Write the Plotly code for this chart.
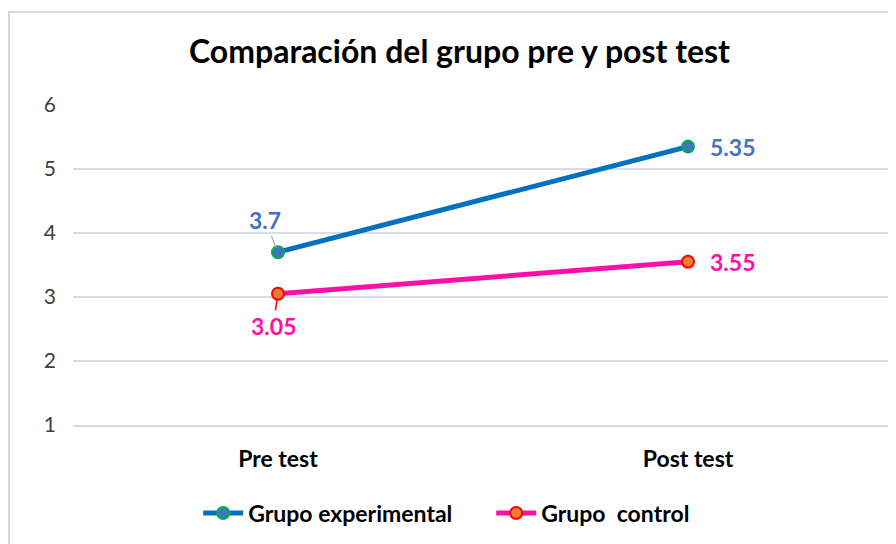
import plotly.graph_objects as go

categories = ["Pre test", "Post test"]
experimental = [3.7, 5.35]
control = [3.05, 3.55]
y_ticks = [1, 2, 3, 4, 5, 6]
title_text = "Comparación del grupo pre y post test"
names = ["Grupo experimental", "Grupo\u00a0 control"]

FONT = "Lato"
L, T, PW, PH = 65, 97, 820, 320

fig = go.Figure()
fig.add_trace(go.Scatter(
    x=categories, y=experimental, mode="lines+markers", name=names[0],
    line=dict(color="#0070C0", width=5),
    marker=dict(size=12, color="#4472C4", line=dict(color="#00B050", width=2)),
))
fig.add_trace(go.Scatter(
    x=categories, y=control, mode="lines+markers", name=names[1],
    line=dict(color="#FF0FAA", width=5),
    marker=dict(size=12, color="#ED7D31", line=dict(color="#FF0000", width=2)),
))

lab_font_b = dict(family=FONT, size=23, color="#4472C4", weight="bold")
lab_font_p = dict(family=FONT, size=23, color="#FF0FAA", weight="bold")
fig.add_annotation(x=categories[0], y=experimental[0], text=f"{experimental[0]:g}",
                   showarrow=True, arrowhead=0, arrowwidth=1.2, arrowcolor="#A6A6A6",
                   ax=-13, ay=-32, standoff=5, font=lab_font_b)
fig.add_annotation(x=categories[1], y=experimental[1], text=f"{experimental[1]:g}",
                   showarrow=False, xanchor="left", xshift=20, font=lab_font_b)
fig.add_annotation(x=categories[0], y=control[0], text=f"{control[0]:g}",
                   showarrow=True, arrowhead=0, arrowwidth=1.5, arrowcolor="#FF0000",
                   ax=-5, ay=32, standoff=5, font=lab_font_p)
fig.add_annotation(x=categories[1], y=control[1], text=f"{control[1]:g}",
                   showarrow=False, xanchor="left", xshift=20, font=lab_font_p)

# chart border
fig.add_shape(type="rect", xref="paper", yref="paper",
              x0=(1 - L) / PW, x1=1.2, y0=-1, y1=(T + PH - 4) / PH,
              line=dict(color="#D9D9D9", width=2), fillcolor="rgba(0,0,0,0)", layer="below")

fig.update_layout(
    width=896, height=544,
    margin=dict(l=L, r=896 - L - PW, t=T, b=544 - T - PH),
    paper_bgcolor="white", plot_bgcolor="white",
    title=dict(text=title_text, x=451.5 / 896, xref="container",
               xanchor="center", y=1 - 44 / 544, yanchor="middle",
               font=dict(family=FONT, size=32, color="black", weight="bold")),
    xaxis=dict(showgrid=False, showline=True, linecolor="#D9D9D9", linewidth=2,
               tickfont=dict(family=FONT, size=23, color="black", weight="bold"),
               ticks="", range=[-0.5, 1.5], ticklabelstandoff=12),
    yaxis=dict(range=[1, 6], tickvals=y_ticks, showgrid=True, gridcolor="#D6DCEC", gridwidth=1.5,
               zeroline=False, showline=False, ticks="",
               tickfont=dict(family=FONT, size=21, color="#404040"), ticklabelstandoff=16),
    legend=dict(orientation="h", x=0.51, xanchor="center", y=(T + PH - 505) / PH,
                yanchor="middle", font=dict(family=FONT, size=23, color="black", weight="bold"),
                itemwidth=40, tracegroupgap=0, entrywidth=238),
    showlegend=True,
)
fig.write_html("out.html")
